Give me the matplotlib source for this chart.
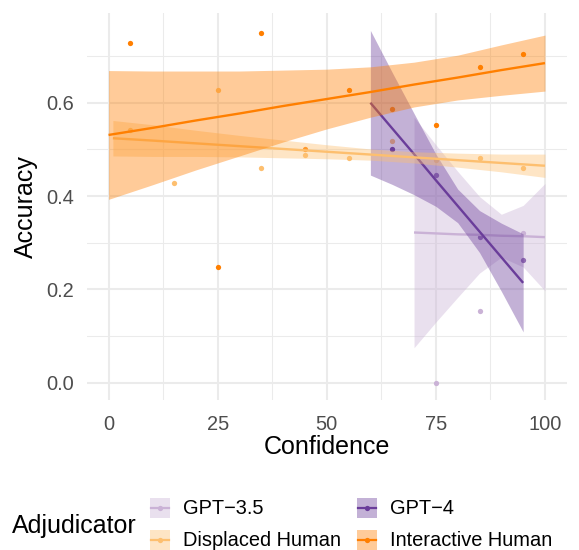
import matplotlib
matplotlib.use("Agg")
import matplotlib.pyplot as plt
from matplotlib.patches import Rectangle
from matplotlib.lines import Line2D

plt.rcParams['font.family'] = ['Liberation Sans', 'DejaVu Sans']

# ---------------------------------------------------------------------
# Data
# ---------------------------------------------------------------------
groups = ["GPT\u22123.5", "GPT\u22124", "Displaced Human", "Interactive Human"]
colors = ["#CAB2D6", "#6A3D9A", "#FDBF6F", "#FF7F00"]

# binned accuracy points
gpt35_x = [75, 85, 95]
gpt35_y = [0.0, 0.154, 0.321]
gpt4_x = [65, 75, 85, 95]
gpt4_y = [0.500, 0.446, 0.313, 0.263]
displaced_x = [5, 15, 25, 35, 45, 55, 65, 75, 85, 95]
displaced_y = [0.541, 0.427, 0.627, 0.461, 0.488, 0.481, 0.517, 0.477, 0.482, 0.460]
interactive_x = [5, 25, 35, 45, 55, 65, 75, 85, 95]
interactive_y = [0.727, 0.249, 0.750, 0.501, 0.627, 0.586, 0.552, 0.676, 0.704]

# linear fits with confidence bands
gpt35_fx = [70, 75, 80, 85, 90, 95, 100]
gpt35_fit = [0.322, 0.320, 0.318, 0.317, 0.315, 0.314, 0.312]
gpt35_lo = [0.075, 0.130, 0.183, 0.235, 0.269, 0.248, 0.197]
gpt35_hi = [0.569, 0.510, 0.453, 0.399, 0.361, 0.380, 0.427]

gpt4_fx = [60, 65, 70, 75, 80, 85, 90, 95]
gpt4_fit = [0.600, 0.545, 0.490, 0.434, 0.379, 0.324, 0.269, 0.214]
gpt4_lo = [0.445, 0.425, 0.403, 0.378, 0.343, 0.279, 0.196, 0.109]
gpt4_hi = [0.755, 0.665, 0.577, 0.490, 0.415, 0.369, 0.342, 0.319]

displaced_fx = [1, 10, 20, 30, 40, 50, 60, 70, 80, 90, 100]
displaced_fit = [0.524, 0.519, 0.513, 0.507, 0.501, 0.495, 0.489, 0.483, 0.477, 0.471, 0.465]
displaced_lo = [0.486, 0.485, 0.485, 0.484, 0.482, 0.480, 0.477, 0.471, 0.462, 0.452, 0.440]
displaced_hi = [0.562, 0.553, 0.541, 0.530, 0.520, 0.510, 0.501, 0.495, 0.492, 0.490, 0.490]

interactive_fx = [0, 10, 20, 30, 40, 50, 60, 70, 80, 90, 100]
interactive_fit = [0.531, 0.546, 0.562, 0.577, 0.593, 0.608, 0.623, 0.639, 0.654, 0.670, 0.685]
interactive_lo = [0.393, 0.424, 0.456, 0.486, 0.516, 0.544, 0.569, 0.591, 0.606, 0.616, 0.625]
interactive_hi = [0.669, 0.668, 0.668, 0.668, 0.670, 0.672, 0.677, 0.687, 0.702, 0.724, 0.745]

points = [(gpt35_x, gpt35_y), (gpt4_x, gpt4_y),
          (displaced_x, displaced_y), (interactive_x, interactive_y)]
fits = [(gpt35_fx, gpt35_fit, gpt35_lo, gpt35_hi),
        (gpt4_fx, gpt4_fit, gpt4_lo, gpt4_hi),
        (displaced_fx, displaced_fit, displaced_lo, displaced_hi),
        (interactive_fx, interactive_fit, interactive_lo, interactive_hi)]

# ---------------------------------------------------------------------
# Figure / Axes
# ---------------------------------------------------------------------
W, H = 579, 550
fig = plt.figure(figsize=(W / 100, H / 100), dpi=100)
left, right, top, bottom = 86.7, 566.8, 12.7, 400.0
ax = fig.add_axes([left / W, 1 - bottom / H, (right - left) / W, (bottom - top) / H])

ax.set_xlim(-5, 105)
ax.set_ylim(-0.037, 0.793)

grid_c = "#EBEBEB"
ax.set_xticks([0, 25, 50, 75, 100])
ax.set_xticks([12.5, 37.5, 62.5, 87.5], minor=True)
ax.set_yticks([0.0, 0.2, 0.4, 0.6])
ax.set_yticklabels(["0.0", "0.2", "0.4", "0.6"])
ax.set_yticks([0.1, 0.3, 0.5, 0.7], minor=True)
ax.grid(True, which="major", color=grid_c, linewidth=1.5)
ax.grid(True, which="minor", color=grid_c, linewidth=0.75)
ax.set_axisbelow(True)
for s in ax.spines.values():
    s.set_visible(False)
ax.tick_params(which="both", length=0, labelsize=14.4, labelcolor="#4D4D4D")
ax.tick_params(axis="y", pad=9.0)
ax.tick_params(axis="x", pad=10.5)

# points first, then each group's ribbon + line
for (px, py), c in zip(points, colors):
    ax.plot(px, py, "o", color=c, markersize=3.8, markeredgewidth=0, zorder=2)

for i, ((fx, fy, lo, hi), c) in enumerate(zip(fits, colors)):
    ax.fill_between(fx, lo, hi, color=c, alpha=0.4, linewidth=0, zorder=3 + 2 * i)
    ax.plot(fx, fy, color=c, linewidth=1.7, zorder=4 + 2 * i, solid_capstyle="butt")

ax.set_xlabel("Confidence", fontsize=18, va="center")
ax.xaxis.set_label_coords(0.5, -(447 - bottom) / (bottom - top))
ax.set_ylabel("Accuracy", fontsize=18, va="center")
ax.yaxis.set_label_coords(-(left - 26) / (right - left), 0.5)

# ---------------------------------------------------------------------
# Legend (drawn by hand, pixel coordinates)
# ---------------------------------------------------------------------
lg = fig.add_axes([0, 0, 1, 1])
lg.set_xlim(0, W)
lg.set_ylim(H, 0)
lg.axis("off")
lg.text(12, 526, "Adjudicator", fontsize=18, va="center", ha="left")
key_x = [150, 357, 150, 357]
key_y = [508, 508, 540, 540]
for g, c, kx, ky in zip(groups, colors, key_x, key_y):
    lg.add_patch(Rectangle((kx, ky - 10), 20, 20, facecolor=c, alpha=0.4,
                           edgecolor="none"))
    lg.add_line(Line2D([kx + 1, kx + 19], [ky, ky], color=c, linewidth=1.6))
    lg.plot([kx + 10], [ky], "o", color=c, markersize=3.8, markeredgewidth=0)
    lg.text(kx + 33, ky, g, fontsize=14.4, va="center", ha="left")

fig.savefig("out.png", dpi=100)
